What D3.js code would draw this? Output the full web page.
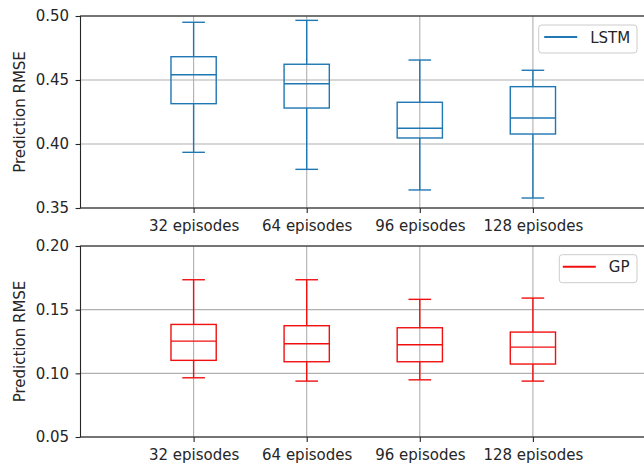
<!DOCTYPE html>
<html>
<head>
<meta charset="utf-8">
<script src="https://cdn.jsdelivr.net/npm/d3@7"></script>
<style>
  body { margin: 0; background: #fff; }
  svg { display: block; font-family: "DejaVu Sans", sans-serif; }
</style>
</head>
<body>
<svg id="chart" width="644" height="464"></svg>
<script>
// Training-set sizes compared in both panels
const categories = ["32 episodes", "64 episodes", "96 episodes", "128 episodes"];

// LSTM prediction RMSE: whisker low, Q1, median, Q3, whisker high
const lstmLow    = [0.3935, 0.3802, 0.3641, 0.3578];
const lstmQ1     = [0.4315, 0.4281, 0.4047, 0.4078];
const lstmMedian = [0.4541, 0.4471, 0.4123, 0.4203];
const lstmQ3     = [0.4682, 0.4623, 0.4326, 0.4448];
const lstmHigh   = [0.4951, 0.4966, 0.4656, 0.4576];

// GP prediction RMSE: whisker low, Q1, median, Q3, whisker high
const gpLow    = [0.0965, 0.0939, 0.0949, 0.0939];
const gpQ1     = [0.1102, 0.1091, 0.1091, 0.1073];
const gpMedian = [0.1253, 0.1232, 0.1224, 0.1206];
const gpQ3     = [0.1384, 0.1374, 0.1358, 0.1324];
const gpHigh   = [0.1735, 0.1735, 0.1581, 0.1591];

const lstmTicks = [0.35, 0.40, 0.45, 0.50];
const gpTicks   = [0.05, 0.10, 0.15, 0.20];

const svg = d3.select("#chart");
const fontSize = 15;
const gridColor = "#b0b0b0";

function panel(opts) {
  const { top, bottom, domain, ticks, low, q1, med, q3, high, color, name, legend } = opts;
  const x = d3.scaleLinear().domain([0, 5]).range([80.5, 646]);
  const y = d3.scaleLinear().domain(domain).range([bottom, top]);
  const g = svg.append("g");

  // grid lines
  g.append("g").selectAll("line").data(categories.map((_, i) => i + 1)).join("line")
    .attr("x1", d => x(d)).attr("x2", d => x(d))
    .attr("y1", top).attr("y2", bottom)
    .attr("stroke", gridColor).attr("stroke-width", 1.1);
  g.append("g").selectAll("line").data(ticks).join("line")
    .attr("x1", x(0)).attr("x2", x(5))
    .attr("y1", d => y(d)).attr("y2", d => y(d))
    .attr("stroke", gridColor).attr("stroke-width", 1.1);

  // boxes
  const rows = categories.map((c, i) => ({
    pos: i + 1, low: low[i], q1: q1[i], med: med[i], q3: q3[i], high: high[i]
  }));
  const bw = 0.4, cw = 0.2;
  const b = g.append("g").attr("stroke", color).attr("stroke-width", 1.4).attr("fill", "none");
  const box = b.selectAll("g").data(rows).join("g");
  box.append("line")
    .attr("x1", d => x(d.pos)).attr("x2", d => x(d.pos))
    .attr("y1", d => y(d.high)).attr("y2", d => y(d.q3));
  box.append("line")
    .attr("x1", d => x(d.pos)).attr("x2", d => x(d.pos))
    .attr("y1", d => y(d.q1)).attr("y2", d => y(d.low));
  box.append("line")
    .attr("x1", d => x(d.pos - cw / 2)).attr("x2", d => x(d.pos + cw / 2))
    .attr("y1", d => y(d.high)).attr("y2", d => y(d.high));
  box.append("line")
    .attr("x1", d => x(d.pos - cw / 2)).attr("x2", d => x(d.pos + cw / 2))
    .attr("y1", d => y(d.low)).attr("y2", d => y(d.low));
  box.append("rect")
    .attr("x", d => x(d.pos - bw / 2)).attr("width", d => x(d.pos + bw / 2) - x(d.pos - bw / 2))
    .attr("y", d => y(d.q3)).attr("height", d => y(d.q1) - y(d.q3));
  box.append("line")
    .attr("x1", d => x(d.pos - bw / 2)).attr("x2", d => x(d.pos + bw / 2))
    .attr("y1", d => y(d.med)).attr("y2", d => y(d.med));

  // axes
  const yAxis = d3.axisLeft(y).tickValues(ticks).tickFormat(d3.format(".2f"))
    .tickSize(4.9).tickPadding(6.5);
  const ya = g.append("g").attr("transform", `translate(${x(0)},0)`).call(yAxis);
  const xAxis = d3.axisBottom(x).tickValues(categories.map((_, i) => i + 1))
    .tickFormat((d, i) => categories[i]).tickSize(4.9).tickPadding(7);
  const xa = g.append("g").attr("transform", `translate(0,${bottom})`).call(xAxis);
  [ya, xa].forEach(a => {
    a.selectAll("text").attr("font-size", fontSize).attr("font-family", "DejaVu Sans").attr("fill", "#262626");
    a.selectAll(".tick line").attr("stroke", "#262626").attr("stroke-width", 1.1);
    a.select(".domain").remove();
  });

  // frame
  g.append("rect").attr("x", x(0)).attr("y", top)
    .attr("width", x(5) - x(0)).attr("height", bottom - top)
    .attr("fill", "none").attr("stroke", "#262626").attr("stroke-width", 1.1);

  // y label
  g.append("text")
    .attr("transform", `translate(24.5,${(top + bottom) / 2}) rotate(-90)`)
    .attr("text-anchor", "middle").attr("font-size", fontSize).attr("fill", "#262626")
    .text("Prediction RMSE");

  // legend
  const lg = g.append("g").attr("transform", `translate(${legend.x},${legend.y})`);
  lg.append("rect").attr("width", legend.w).attr("height", 28).attr("rx", 3)
    .attr("fill", "#fff").attr("fill-opacity", 0.8).attr("stroke", "#cccccc");
  lg.append("line").attr("x1", legend.lx).attr("x2", legend.lx + 33).attr("y1", 12).attr("y2", 12)
    .attr("stroke", color).attr("stroke-width", 2);
  lg.append("text").attr("x", legend.lx + 46).attr("y", 17.5)
    .attr("font-size", fontSize).attr("fill", "#262626").text(name);
}

panel({
  top: 16, bottom: 208, domain: [0.35, 0.50], ticks: lstmTicks,
  low: lstmLow, q1: lstmQ1, med: lstmMedian, q3: lstmQ3, high: lstmHigh,
  color: "#1f77b4", name: "LSTM",
  legend: { x: 538.7, y: 25, w: 98.3, lx: 5.5 }
});

panel({
  top: 246, bottom: 437, domain: [0.05, 0.20], ticks: gpTicks,
  low: gpLow, q1: gpQ1, med: gpMedian, q3: gpQ3, high: gpHigh,
  color: "#f01010", name: "GP",
  legend: { x: 559.3, y: 254.7, w: 77.7, lx: 3.5 }
});
</script>
</body>
</html>
